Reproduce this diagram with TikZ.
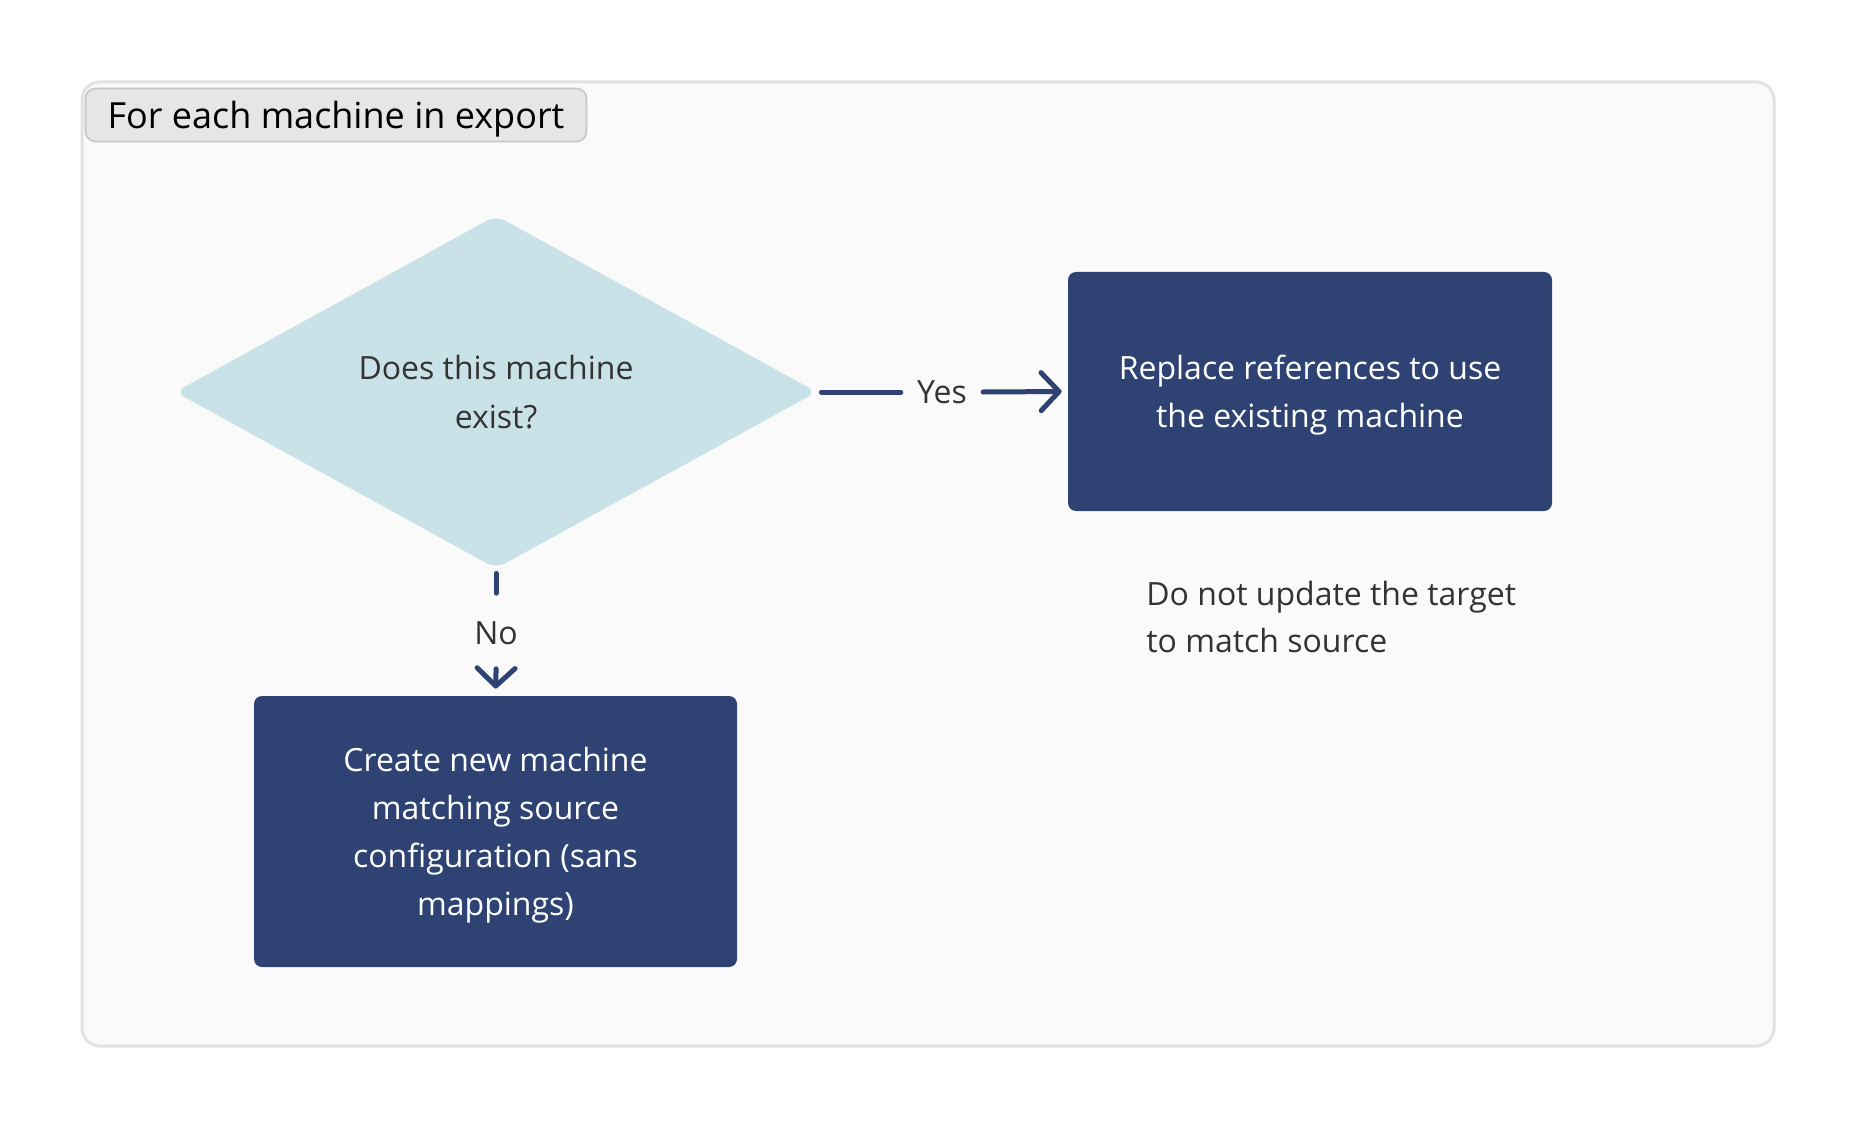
\documentclass[tikz,border=0pt]{standalone}
\usepackage{fontspec}
\setmainfont{Open Sans}
\usepackage{xcolor}
\usepackage{tikz}
\usetikzlibrary{positioning,shapes.geometric,arrows.meta}
\definecolor{navy}{HTML}{2E4374}
\definecolor{paleblue}{HTML}{C9E2E8}
\definecolor{panelbg}{HTML}{FAFAFA}
\definecolor{panelrim}{HTML}{E2E2E2}
\definecolor{tagbg}{HTML}{E6E6E6}
\definecolor{tagrim}{HTML}{C6C6C6}
\definecolor{ink}{HTML}{333333}
\tikzset{
  % --- frame -----------------------------------------------------------------
  panel/.style={draw=panelrim,fill=panelbg,line width=1.5pt,rounded corners=9pt},
  tag/.style={draw=tagrim,fill=tagbg,line width=0.8pt,rounded corners=5pt,
              minimum width=250.5pt,minimum height=26.5pt,inner sep=0pt,
              text depth=0pt,font=\fontsize{18}{24}\selectfont,text=black},
  % --- flow shapes -----------------------------------------------------------
  decision/.style={diamond,aspect=1.82,fill=paleblue,rounded corners=5pt,
                   inner sep=0pt,minimum width=321pt,minimum height=176.5pt,
                   align=center,font=\fontsize{16}{24.5}\selectfont,text=ink},
  action/.style={rectangle,fill=navy,rounded corners=4pt,align=center,
                 text depth=0pt,font=\fontsize{16}{24}\selectfont,text=white,
                 inner sep=0pt},
  note/.style={align=left,font=\fontsize{16}{23.5}\selectfont,text=ink,
               inner sep=0pt},
  blab/.style={font=\fontsize{16}{20}\selectfont,text=ink},
  % --- connectors ------------------------------------------------------------
  wire/.style={navy,line width=2.5pt,line cap=round},
  arr/.style={wire,-{Straight Barb[length=9pt,width=19pt,line cap=round,
              line join=round]}},
}

\begin{document}
\begin{tikzpicture}[x=0.5pt,y=-0.5pt]
  \useasboundingbox (0,0) rectangle (1856,1128);
  \fill[white] (0,0) rectangle (1856,1128);
  \draw[panel] (82,82) rectangle (1774,1046);
  \node[tag] (title) at (336,115) {For each machine in export};

  \node[decision] (dia) at (496,392) {Does this machine\\exist?};
  \node[action,minimum width=242pt,minimum height=119.5pt] (rep) at (1310,391.5)
    {Replace references to use\\the existing machine};
  \node[action,minimum width=241.5pt,minimum height=135.5pt] (new) at (495.5,831.5)
    {Create new machine\\matching source\\configuration (sans\\mappings)};
  \node[note,anchor=west] (hint) at (1146,616.5)
    {Do not update the target\\to match source};

  \node[blab,inner xsep=8pt] (yes) at (942,392) {Yes};
  \node[blab,inner ysep=14pt,text depth=0pt] (no) at (496,633) {No};

  \draw[wire,shorten <=2pt] (dia.east) -- (yes.west);
  \draw[arr,shorten >=3pt] (yes.east) -- (rep.west);
  \draw[wire,shorten <=2.3pt] (dia.south) -- (no.north);
  \draw[arr,shorten <=-2pt,shorten >=3.5pt] (no.south) -- (new.north);
\end{tikzpicture}
\end{document}
